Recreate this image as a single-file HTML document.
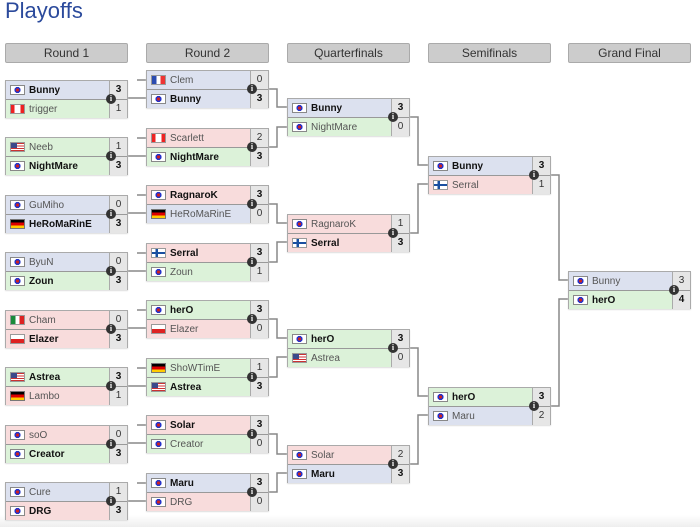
<!DOCTYPE html>
<html><head><meta charset="utf-8"><style>
body{margin:0;width:700px;height:527px;background:#fff;position:relative;overflow:hidden;font-family:"Liberation Sans",sans-serif;}
.t{position:absolute;left:5px;top:-2px;font-size:22px;color:#2b4a9c;}
.h{position:absolute;top:43px;width:123px;height:20px;background:#ccc;border:1px solid #aaa;box-sizing:border-box;border-radius:2px;text-align:center;font-size:12px;line-height:18px;color:#333;}
.m{position:absolute;width:123px;height:38px;border:1px solid #aaa;box-sizing:border-box;box-shadow:0 1px 1px #ddd;}
.r{display:flex;height:18px;align-items:center;font-size:10px;color:#555;}
.r+.r{border-top:1px solid #999;height:18px;}
.r b{color:#111;}
.b{background:#dce1ef}.g{background:#dcf2d9}.d{background:#f8dcdc}
.f{width:15px;height:10px;margin:0 4px 0 4px;flex:none;box-sizing:border-box;border:1px solid #999;}
.n{flex:1;}
.s{width:17px;height:100%;background:#e6e6e6;border-left:1px solid #aaa;text-align:center;line-height:18px;color:#333;flex:none;}
.kr{background:radial-gradient(circle,#c22 0 1.6px,#23c 1.8px 3px,#fff 3.2px);border-color:#888;}
.fr{background:linear-gradient(90deg,#2a4bb0 33%,#fff 33% 66%,#e33 66%);}
.ca{background:linear-gradient(90deg,#e22 28%,#fff 28% 72%,#e22 72%);}
.us{background:linear-gradient(#3a4a8a,#3a4a8a) 0 0/6px 5px no-repeat,repeating-linear-gradient(#c33 0 1.2px,#fff 1.2px 2.4px);}
.de{background:linear-gradient(#000 33%,#d00 33% 66%,#fc0 66%);border-color:#777;}
.fi{background:linear-gradient(90deg,transparent 28%,#1a4fa0 28% 45%,transparent 45%),linear-gradient(#fff 38%,#1a4fa0 38% 62%,#fff 62%);}
.mx{background:linear-gradient(90deg,#1a8a3a 33%,#fff 33% 66%,#d22 66%);}
.pl{background:linear-gradient(#fff 50%,#d22 50%);}
.i{position:absolute;left:100px;top:13px;width:10px;height:10px;border-radius:50%;background:#333;color:#fff;font-size:8px;font-weight:bold;line-height:10px;text-align:center;font-family:"Liberation Serif",serif;z-index:2;}
svg{position:absolute;left:0;top:0;}
.bot{position:absolute;left:0;right:0;bottom:0;height:12px;background:linear-gradient(#fff,#eee);}
</style></head><body>
<div class="bot"></div>
<div class="t">Playoffs</div>
<div class="h" style="left:5px">Round 1</div>
<div class="h" style="left:146px">Round 2</div>
<div class="h" style="left:287px">Quarterfinals</div>
<div class="h" style="left:428px">Semifinals</div>
<div class="h" style="left:568px">Grand Final</div>
<svg width="700" height="527" fill="none" stroke="#888" stroke-width="1.5">
<path d="M128 98H146 M128 156H146 M128 213H146 M128 271H146 M128 328H146 M128 386H146 M128 443H146 M128 501H146"/>
<path d="M137 80H146 M137 138H146 M137 195H146 M137 253H146 M137 310H146 M137 368H146 M137 425H146 M137 483H146"/>
<path d="M269 89H277V107H287 M269 147H277V127H287 M269 204H277V223H287 M269 262H277V242H287 M269 319H277V338H287 M269 377H277V357H287 M269 434H277V454H287 M269 492H277V473H287"/>
<path d="M410 117H418V165H428 M410 233H418V184H428 M410 348H418V396H428 M410 464H418V415H428"/>
<path d="M551 175H559V280H568 M551 406H559V299H568"/>
</svg>

<!-- Round 1 -->
<div class="m" style="left:5px;top:80px"><div class="r b"><span class="f kr"></span><b class="n">Bunny</b><b class="s">3</b></div><div class="r g"><span class="f ca"></span><span class="n">trigger</span><span class="s">1</span></div><span class="i">i</span></div>
<div class="m" style="left:5px;top:137px"><div class="r g"><span class="f us"></span><span class="n">Neeb</span><span class="s">1</span></div><div class="r g"><span class="f kr"></span><b class="n">NightMare</b><b class="s">3</b></div><span class="i">i</span></div>
<div class="m" style="left:5px;top:195px"><div class="r b"><span class="f kr"></span><span class="n">GuMiho</span><span class="s">0</span></div><div class="r b"><span class="f de"></span><b class="n">HeRoMaRinE</b><b class="s">3</b></div><span class="i">i</span></div>
<div class="m" style="left:5px;top:252px"><div class="r b"><span class="f kr"></span><span class="n">ByuN</span><span class="s">0</span></div><div class="r g"><span class="f kr"></span><b class="n">Zoun</b><b class="s">3</b></div><span class="i">i</span></div>
<div class="m" style="left:5px;top:310px"><div class="r d"><span class="f mx"></span><span class="n">Cham</span><span class="s">0</span></div><div class="r d"><span class="f pl"></span><b class="n">Elazer</b><b class="s">3</b></div><span class="i">i</span></div>
<div class="m" style="left:5px;top:367px"><div class="r g"><span class="f us"></span><b class="n">Astrea</b><b class="s">3</b></div><div class="r d"><span class="f de"></span><span class="n">Lambo</span><span class="s">1</span></div><span class="i">i</span></div>
<div class="m" style="left:5px;top:425px"><div class="r d"><span class="f kr"></span><span class="n">soO</span><span class="s">0</span></div><div class="r g"><span class="f kr"></span><b class="n">Creator</b><b class="s">3</b></div><span class="i">i</span></div>
<div class="m" style="left:5px;top:482px"><div class="r b"><span class="f kr"></span><span class="n">Cure</span><span class="s">1</span></div><div class="r d"><span class="f kr"></span><b class="n">DRG</b><b class="s">3</b></div><span class="i">i</span></div>

<!-- Round 2 -->
<div class="m" style="left:146px;top:70px"><div class="r b"><span class="f fr"></span><span class="n">Clem</span><span class="s">0</span></div><div class="r b"><span class="f kr"></span><b class="n">Bunny</b><b class="s">3</b></div><span class="i">i</span></div>
<div class="m" style="left:146px;top:128px"><div class="r d"><span class="f ca"></span><span class="n">Scarlett</span><span class="s">2</span></div><div class="r g"><span class="f kr"></span><b class="n">NightMare</b><b class="s">3</b></div><span class="i">i</span></div>
<div class="m" style="left:146px;top:185px"><div class="r d"><span class="f kr"></span><b class="n">RagnaroK</b><b class="s">3</b></div><div class="r b"><span class="f de"></span><span class="n">HeRoMaRinE</span><span class="s">0</span></div><span class="i">i</span></div>
<div class="m" style="left:146px;top:243px"><div class="r d"><span class="f fi"></span><b class="n">Serral</b><b class="s">3</b></div><div class="r g"><span class="f kr"></span><span class="n">Zoun</span><span class="s">1</span></div><span class="i">i</span></div>
<div class="m" style="left:146px;top:300px"><div class="r g"><span class="f kr"></span><b class="n">herO</b><b class="s">3</b></div><div class="r d"><span class="f pl"></span><span class="n">Elazer</span><span class="s">0</span></div><span class="i">i</span></div>
<div class="m" style="left:146px;top:358px"><div class="r g"><span class="f de"></span><span class="n">ShoWTimE</span><span class="s">1</span></div><div class="r g"><span class="f us"></span><b class="n">Astrea</b><b class="s">3</b></div><span class="i">i</span></div>
<div class="m" style="left:146px;top:415px"><div class="r d"><span class="f kr"></span><b class="n">Solar</b><b class="s">3</b></div><div class="r g"><span class="f kr"></span><span class="n">Creator</span><span class="s">0</span></div><span class="i">i</span></div>
<div class="m" style="left:146px;top:473px"><div class="r b"><span class="f kr"></span><b class="n">Maru</b><b class="s">3</b></div><div class="r d"><span class="f kr"></span><span class="n">DRG</span><span class="s">0</span></div><span class="i">i</span></div>

<!-- QF -->
<div class="m" style="left:287px;top:98px"><div class="r b"><span class="f kr"></span><b class="n">Bunny</b><b class="s">3</b></div><div class="r g"><span class="f kr"></span><span class="n">NightMare</span><span class="s">0</span></div><span class="i">i</span></div>
<div class="m" style="left:287px;top:214px"><div class="r d"><span class="f kr"></span><span class="n">RagnaroK</span><span class="s">1</span></div><div class="r d"><span class="f fi"></span><b class="n">Serral</b><b class="s">3</b></div><span class="i">i</span></div>
<div class="m" style="left:287px;top:329px"><div class="r g"><span class="f kr"></span><b class="n">herO</b><b class="s">3</b></div><div class="r g"><span class="f us"></span><span class="n">Astrea</span><span class="s">0</span></div><span class="i">i</span></div>
<div class="m" style="left:287px;top:445px"><div class="r d"><span class="f kr"></span><span class="n">Solar</span><span class="s">2</span></div><div class="r b"><span class="f kr"></span><b class="n">Maru</b><b class="s">3</b></div><span class="i">i</span></div>

<!-- SF -->
<div class="m" style="left:428px;top:156px"><div class="r b"><span class="f kr"></span><b class="n">Bunny</b><b class="s">3</b></div><div class="r d"><span class="f fi"></span><span class="n">Serral</span><span class="s">1</span></div><span class="i">i</span></div>
<div class="m" style="left:428px;top:387px"><div class="r g"><span class="f kr"></span><b class="n">herO</b><b class="s">3</b></div><div class="r b"><span class="f kr"></span><span class="n">Maru</span><span class="s">2</span></div><span class="i">i</span></div>

<!-- GF -->
<div class="m" style="left:568px;top:271px"><div class="r b"><span class="f kr"></span><span class="n">Bunny</span><span class="s">3</span></div><div class="r g"><span class="f kr"></span><b class="n">herO</b><b class="s">4</b></div><span class="i">i</span></div>
</body></html>
